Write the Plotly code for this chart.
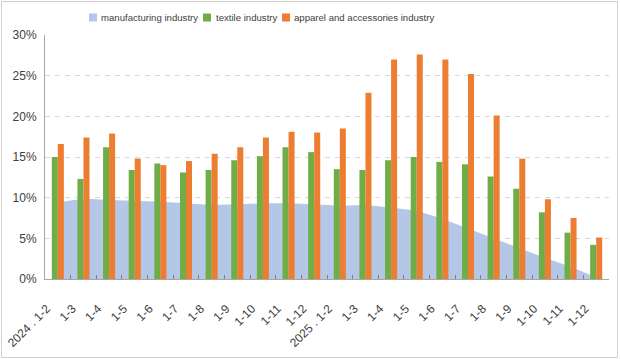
import plotly.graph_objects as go

periods = ["2024 . 1-2", "1-3", "1-4", "1-5", "1-6", "1-7", "1-8", "1-9", "1-10", "1-11", "1-12",
           "2025 . 1-2", "1-3", "1-4", "1-5", "1-6", "1-7", "1-8", "1-9", "1-10", "1-11", "1-12"]
manufacturing = [9.4, 9.9, 9.7, 9.6, 9.5, 9.3, 9.1, 9.2, 9.3, 9.3, 9.2,
                 9.0, 9.1, 8.8, 8.4, 7.4, 6.2, 5.0, 3.8, 2.6, 1.5, 0.2]
textile = [15.0, 12.3, 16.2, 13.4, 14.2, 13.1, 13.4, 14.6, 15.1, 16.2, 15.6,
           13.5, 13.4, 14.6, 15.0, 14.4, 14.1, 12.6, 11.1, 8.2, 5.7, 4.2]
apparel = [16.6, 17.4, 17.9, 14.8, 14.0, 14.5, 15.4, 16.2, 17.4, 18.1, 18.0,
           18.5, 22.9, 27.0, 27.6, 27.0, 25.2, 20.1, 14.8, 9.8, 7.5, 5.1]
y_ticks = [0, 5, 10, 15, 20, 25, 30]
series_names = ["manufacturing industry", "textile industry", "apparel and accessories industry"]
colors = ["#b4c7e7", "#70ad47", "#ed7d31"]

x = list(range(len(periods)))
xr = [-0.5, len(periods) - 0.5]
yr = [0, 30]

W, H = 620, 359
ML, MR, MT, MB = 45, 11, 35, 80
PW, PH = W - ML - MR, H - MT - MB

def px(X):
    return (X - ML) / PW

def py(Y):
    return (H - MB - Y) / PH

fig = go.Figure()
fig.add_trace(go.Scatter(x=x, y=manufacturing, name=series_names[0], mode="lines",
                         fill="tozeroy", fillcolor=colors[0],
                         line=dict(width=0, color=colors[0]), showlegend=False))
fig.add_trace(go.Bar(x=x, y=textile, name=series_names[1], xaxis="x2", yaxis="y2",
                     marker=dict(color=colors[1], line=dict(width=0)), showlegend=False))
fig.add_trace(go.Bar(x=x, y=apparel, name=series_names[2], xaxis="x2", yaxis="y2",
                     marker=dict(color=colors[2], line=dict(width=0)), showlegend=False))

shapes = []
annotations = []
# legend drawn by hand (small squares, tight spacing)
leg = [(89, 99), (203, 214), (282, 292)]
for (sx, tx), name, c in zip(leg, series_names, colors):
    shapes.append(dict(type="rect", xref="paper", yref="paper",
                       x0=px(sx), x1=px(sx + 8), y0=py(21.5), y1=py(13.5),
                       fillcolor=c, line=dict(width=0)))
    annotations.append(dict(text=name, xref="paper", yref="paper", x=px(tx), y=py(17.5),
                            xanchor="left", yanchor="middle", showarrow=False,
                            font=dict(family="Liberation Sans, Arial", size=9.6, color="#404040")))
# outer frame
shapes.append(dict(type="rect", xref="paper", yref="paper",
                   x0=px(1.5), x1=px(617.5), y0=py(357.5), y1=py(1.5),
                   line=dict(color="#d0d0d0", width=1), fillcolor="rgba(0,0,0,0)"))

fig.update_layout(
    width=W, height=H,
    margin=dict(l=ML, r=MR, t=MT, b=MB, autoexpand=False),
    paper_bgcolor="white", plot_bgcolor="white",
    barmode="group", bargap=0.53, bargroupgap=0,
    font=dict(family="Liberation Sans, Arial", size=12, color="#404040"),
    shapes=shapes, annotations=annotations,
    xaxis=dict(range=xr, tickmode="array", tickvals=x, ticktext=periods,
               tickangle=-45, ticks="", showgrid=False, zeroline=False,
               showline=True, linecolor="#a6a6a6", linewidth=1,
               ticklabelstandoff=17, ticklabelshift=-11,
               tickfont=dict(size=12, color="#404040")),
    yaxis=dict(range=yr, tickmode="array", tickvals=y_ticks,
               ticktext=[f"{v}%" for v in y_ticks], ticks="",
               showgrid=True, gridcolor="#d9d9d9", griddash="5px,5px", gridwidth=1,
               zeroline=False, showline=True, linecolor="#a6a6a6", linewidth=1,
               ticklabelstandoff=5,
               tickfont=dict(size=12, color="#404040")),
    xaxis2=dict(overlaying="x", range=xr, tickmode="array",
                tickvals=[i - 0.5 for i in range(len(periods) + 1)],
                ticks="inside", ticklen=4, tickcolor="#808080", tickwidth=1,
                showticklabels=False, showgrid=False, zeroline=False, showline=False),
    yaxis2=dict(overlaying="y", range=yr, visible=False),
)

fig.write_html("out.html", config={"displayModeBar": False},
               post_script="document.body.style.margin='0px';")
